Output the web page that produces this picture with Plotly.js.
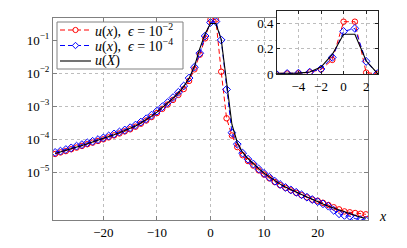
<!DOCTYPE html>
<html>
<head>
<meta charset="utf-8">
<script src="https://cdn.plot.ly/plotly-3.0.1.min.js"></script>
<style>html,body{margin:0;padding:0;background:#fff;}#chart{width:407px;height:248px;}</style>
</head>
<body>
<div id="chart"></div>
<script>
const xs = [-29,-28,-27,-26,-25,-24,-23,-22,-21,-20,-19,-18,-17,-16,-15,-14,-13,-12,-11,-10,
  -9,-8,-7,-6,-5,-4,-3,-2,-1,0,1,2,3,4,5,6,7,8,9,10,11,12,13,14,15,16,17,18,19,20,
  21,22,23,24,25,26,27,28,29];

// u(x), eps = 1e-2 (red)
const uEps2 = [3.6e-5,4.0e-5,4.4e-5,5.0e-5,5.6e-5,6.3e-5,7.1e-5,7.9e-5,8.9e-5,1.0e-4,
  1.14e-4,1.31e-4,1.5e-4,1.73e-4,2.0e-4,2.4e-4,2.95e-4,3.7e-4,4.7e-4,6.2e-4,
  8.3e-4,1.12e-3,1.55e-3,2.2e-3,3.3e-3,5.8e-3,1.3e-2,3.6e-2,0.112,0.415,0.415,0.011,
  4.3e-4,1.3e-4,5.8e-5,3.3e-5,2.2e-5,1.6e-5,1.15e-5,8.6e-6,6.6e-6,5.1e-6,4.1e-6,3.4e-6,
  2.85e-6,2.4e-6,2.05e-6,1.75e-6,1.5e-6,1.38e-6,1.2e-6,1.03e-6,8.8e-7,7.6e-7,6.6e-7,
  6.2e-7,5.9e-7,5.6e-7,5.4e-7];

// u(x), eps = 1e-4 (blue)
const uEps4 = [4.0e-5,4.4e-5,4.9e-5,5.5e-5,6.2e-5,6.9e-5,7.8e-5,8.7e-5,9.8e-5,1.1e-4,
  1.26e-4,1.45e-4,1.66e-4,1.91e-4,2.24e-4,2.69e-4,3.31e-4,4.17e-4,5.37e-4,7.08e-4,
  9.55e-4,1.29e-3,1.82e-3,2.63e-3,4.07e-3,7.08e-3,1.51e-2,3.98e-2,0.132,0.338,0.362,0.1,
  3.2e-3,1.58e-4,7.1e-5,3.8e-5,2.5e-5,1.78e-5,1.26e-5,9.3e-6,7.1e-6,5.4e-6,4.3e-6,3.5e-6,
  2.95e-6,2.5e-6,2.1e-6,1.78e-6,1.51e-6,1.3e-6,1.12e-6,9.5e-7,7.1e-7,5.6e-7,5.0e-7,
  4.7e-7,4.0e-7,3.7e-7,3.55e-7];

// u(X) (black)
const uX = [3.7e-5,4.1e-5,4.6e-5,5.1e-5,5.8e-5,6.5e-5,7.3e-5,8.2e-5,9.3e-5,1.04e-4,
  1.19e-4,1.37e-4,1.57e-4,1.81e-4,2.1e-4,2.5e-4,3.1e-4,3.9e-4,5.0e-4,6.6e-4,
  8.9e-4,1.22e-3,1.72e-3,2.5e-3,3.9e-3,6.9e-3,1.6e-2,5.5e-2,0.155,0.316,0.316,0.105,
  4.5e-3,2.8e-4,8.0e-5,4.0e-5,2.6e-5,1.8e-5,1.3e-5,9.5e-6,7.2e-6,5.5e-6,4.4e-6,3.6e-6,
  3.0e-6,2.5e-6,2.1e-6,1.8e-6,1.55e-6,1.28e-6,1.1e-6,9.5e-7,8.3e-7,7.3e-7,6.4e-7,
  5.6e-7,4.8e-7,4.4e-7,4.1e-7];

const names = [
  '<i>u</i>(<i>x</i>),\u00a0\u00a0<i>ϵ</i>\u00a0=\u00a010<sup>−2</sup>',
  '<i>u</i>(<i>x</i>),\u00a0\u00a0<i>ϵ</i>\u00a0=\u00a010<sup>−4</sup>',
  '<i>u</i>(<i>X</i>)'
];
const mainXTicks = [-20,-10,0,10,20];
const mainYTicks = [1e-5,1e-4,1e-3,1e-2,1e-1];
const mainYLabels = ['10<sup>−5</sup>','10<sup>−4</sup>','10<sup>−3</sup>','10<sup>−2</sup>','10<sup>−1</sup>'];
const insetXTicks = [-4,-2,0,2];
const insetYTicks = [0,0.2,0.4];

const FONT = "'Liberation Serif', 'Times New Roman', serif";
const RED = '#ff0000', BLUE = '#0000ff', BLACK = '#000000';
const DASH = '5px,3px';

function series(xa, ya) {
  return [
    {x: xs, y: uEps2, xaxis: xa, yaxis: ya, name: names[0], showlegend: false,
     mode: 'lines+markers', line: {color: RED, width: 1, dash: DASH},
     marker: {symbol: 'circle-open', size: 5.5, color: RED, line: {width: 1}}},
    {x: xs, y: uEps4, xaxis: xa, yaxis: ya, name: names[1], showlegend: false,
     mode: 'lines+markers', line: {color: BLUE, width: 1, dash: DASH},
     marker: {symbol: 'diamond-open', size: 6, color: BLUE, line: {width: 1}}},
    {x: xs, y: uX, xaxis: xa, yaxis: ya, name: names[2], showlegend: false,
     mode: 'lines', line: {color: BLACK, width: 1.1}}
  ];
}

const data = series('x', 'y').concat(series('x2', 'y2'));

const axBase = {
  showline: true, mirror: 'ticks', ticks: 'inside', ticklen: 4,
  showgrid: true, gridcolor: '#bdbdbd', griddash: 'dot', gridwidth: 1,
  zeroline: false, tickfont: {family: FONT, size: 13, color: '#000'}
};

// pixel -> paper helpers for the hand-built legend box
const L = 53, T = 11, W = 325, H = 209;
const px = v => (v - L) / W;
const py = v => (T + H - v) / H;

const rows = [30, 45.5, 61];
const sx0 = 60, sx1 = 91, mx = 75.5, tx = 93;
const shapes = [
  {type: 'rect', xref: 'paper', yref: 'paper', x0: px(57), x1: px(183), y0: py(69), y1: py(22),
   fillcolor: '#fff', line: {color: '#808080', width: 1}, layer: 'above'},
  {type: 'line', xref: 'paper', yref: 'paper', x0: px(sx0), x1: px(sx1), y0: py(rows[0]), y1: py(rows[0]),
   line: {color: RED, width: 1, dash: DASH}, layer: 'above'},
  {type: 'circle', xref: 'paper', yref: 'paper', x0: px(mx - 2.6), x1: px(mx + 2.6),
   y0: py(rows[0] + 2.6), y1: py(rows[0] - 2.6), fillcolor: '#fff', line: {color: RED, width: 1}, layer: 'above'},
  {type: 'line', xref: 'paper', yref: 'paper', x0: px(sx0), x1: px(sx1), y0: py(rows[1]), y1: py(rows[1]),
   line: {color: BLUE, width: 1, dash: DASH}, layer: 'above'},
  {type: 'path', xref: 'paper', yref: 'paper',
   path: 'M' + px(mx) + ',' + py(rows[1] - 3.2) + ' L' + px(mx + 3.2) + ',' + py(rows[1]) +
         ' L' + px(mx) + ',' + py(rows[1] + 3.2) + ' L' + px(mx - 3.2) + ',' + py(rows[1]) + ' Z',
   fillcolor: '#fff', line: {color: BLUE, width: 1}, layer: 'above'},
  {type: 'line', xref: 'paper', yref: 'paper', x0: px(sx0), x1: px(sx1), y0: py(rows[2]), y1: py(rows[2]),
   line: {color: BLACK, width: 1.1}, layer: 'above'}
];

const annotations = names.map((n, i) => ({
  text: n, xref: 'paper', yref: 'paper', x: px(tx), y: py(rows[i]), showarrow: false,
  xanchor: 'left', yanchor: 'middle', font: {family: FONT, size: 14, color: '#000'}
}));
annotations.push({text: '<i>x</i>', xref: 'paper', yref: 'paper', x: px(383), y: py(216),
  showarrow: false, xanchor: 'center', yanchor: 'middle', font: {family: FONT, size: 14, color: '#000'}});

const layout = {
  width: 407, height: 248,
  margin: {l: L, r: 407 - L - W, t: T, b: 248 - T - H, pad: 0},
  paper_bgcolor: '#fff', plot_bgcolor: '#fff',
  showlegend: false,
  xaxis: Object.assign({}, axBase, {domain: [0, px(368)], anchor: 'y', range: [-29.4, 29.4],
    tickmode: 'array', tickvals: mainXTicks, linecolor: '#808080', tickcolor: '#808080'}),
  yaxis: Object.assign({}, axBase, {domain: [0, py(18)], anchor: 'x', type: 'log',
    range: [-6.44, -0.335], tickmode: 'array', tickvals: mainYTicks, ticktext: mainYLabels,
    linecolor: '#808080', tickcolor: '#808080'}),
  xaxis2: Object.assign({}, axBase, {domain: [px(277), 1], anchor: 'y2', range: [-5.9, 3.05],
    tickmode: 'array', tickvals: insetXTicks, linecolor: '#222', tickcolor: '#222', ticklen: 3}),
  yaxis2: Object.assign({}, axBase, {domain: [py(74), 1], anchor: 'x2', range: [0, 0.5],
    tickmode: 'array', tickvals: insetYTicks, linecolor: '#222', tickcolor: '#222', ticklen: 3}),
  shapes: shapes,
  annotations: annotations
};

Plotly.newPlot('chart', data, layout, {staticPlot: true, displayModeBar: false});
</script>
</body>
</html>
